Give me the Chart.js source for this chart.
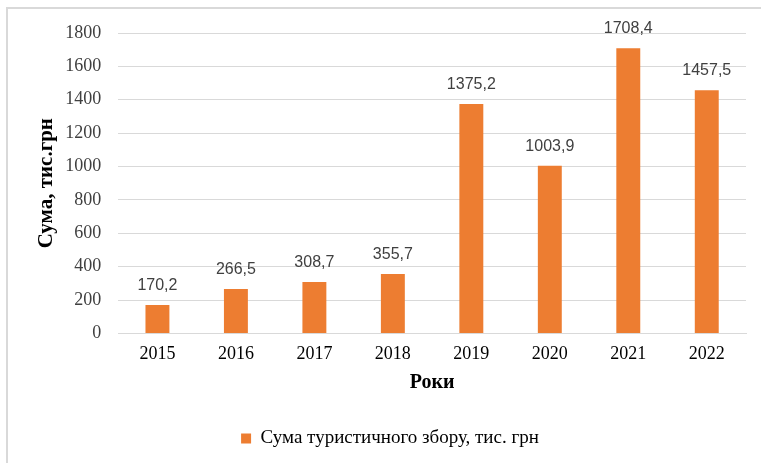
<!DOCTYPE html>
<html>
<head>
<meta charset="utf-8">
<script src="https://cdn.jsdelivr.net/npm/chart.js@4"></script>
<style>
  html, body { margin: 0; padding: 0; background: #fff; }
  #wrap { position: relative; width: 761px; height: 463px; overflow: hidden; }
  #frame { position: absolute; left: 6px; top: 7px; width: 800px; height: 500px; border: 2px solid #d9d9d9; }
  canvas { position: absolute; left: 0; top: 0; }
</style>
</head>
<body>
<div id="wrap">
  <div id="frame"></div>
  <canvas id="taxChart" width="761" height="463"></canvas>
</div>
<script>
let years = ['2015', '2016', '2017', '2018', '2019', '2020', '2021', '2022'];
let taxSum = [170.2, 266.5, 308.7, 355.7, 1375.2, 1003.9, 1708.4, 1457.5];
let yTicks = [0, 200, 400, 600, 800, 1000, 1200, 1400, 1600, 1800];

const serif = '"Liberation Serif", "Times New Roman", serif';
Chart.defaults.font.family = serif;

// підписи значень над стовпцями
const barLabels = {
    id: 'barLabels',
    afterDatasetsDraw(chart) {
        const ctx = chart.ctx;
        ctx.save();
        ctx.font = '16px "Liberation Sans", Arial, sans-serif';
        ctx.fillStyle = '#404040';
        ctx.textAlign = 'center';
        ctx.textBaseline = 'alphabetic';
        chart.getDatasetMeta(0).data.forEach((bar, i) => {
            ctx.fillText(taxSum[i].toFixed(1).replace('.', ','), bar.x, bar.y - 15);
        });
        ctx.restore();
    }
};

let tixChart = document.getElementById('taxChart').getContext('2d');

new Chart(tixChart, {
    type: 'bar',
    data: {
        labels: years,
        datasets: [{
            label: 'Сума туристичного збору, тис. грн',
            data: taxSum,
            backgroundColor: '#ed7d31',
            barPercentage: 0.305,
            categoryPercentage: 1
        }]
    },
    options: {
        responsive: false,
        animation: false,
        layout: { padding: { left: 34, right: 15, top: 33, bottom: 5 } },
        plugins: {
            legend: {
                position: 'bottom',
                labels: {
                    font: { family: serif, size: 19 },
                    color: '#000',
                    boxWidth: 10,
                    boxHeight: 10,
                    padding: 10
                }
            },
            tooltip: { enabled: false }
        },
        scales: {
            x: {
                grid: { display: false },
                border: { display: true, color: '#d9d9d9', width: 1 },
                ticks: { font: { family: serif, size: 18 }, color: '#000', padding: 2 },
                title: {
                    display: true,
                    text: 'Роки',
                    font: { family: serif, size: 20, weight: 'bold' },
                    color: '#000',
                    padding: { top: 4, bottom: 24 }
                }
            },
            y: {
                min: 0,
                max: 1800,
                afterBuildTicks(axis) { axis.ticks = yTicks.map(v => ({ value: v })); },
                grid: { color: '#d9d9d9', drawTicks: false },
                border: { display: false },
                ticks: {
                    font: { family: serif, size: 18 },
                    color: '#404040',
                    padding: 17,
                    callback: v => String(v)
                },
                title: {
                    display: true,
                    text: 'Сума, тис.грн',
                    font: { family: serif, size: 21, weight: 'bold' },
                    color: '#000',
                    padding: { top: 0, bottom: -11 }
                }
            }
        }
    },
    plugins: [barLabels]
});
</script>
</body>
</html>
